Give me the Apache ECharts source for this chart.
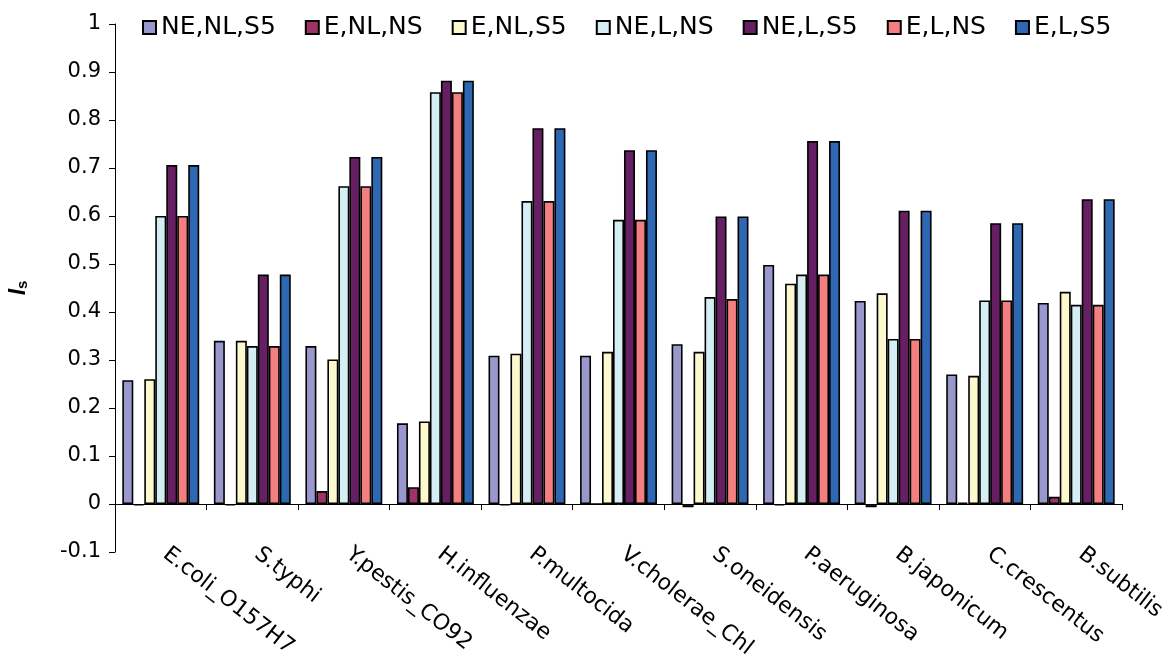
<!DOCTYPE html>
<html>
<head>
<meta charset="utf-8">
<title>Is by genome</title>
<script src="https://cdn.jsdelivr.net/npm/echarts@6/dist/echarts.min.js"></script>
<style>
  html, body { margin: 0; padding: 0; background: #fff; }
  #chart { width: 1169px; height: 654px; }
</style>
</head>
<body>
<div id="chart"></div>
<script>
// Genomes on the category axis
const genomes = ['E.coli_O157H7', 'S.typhi', 'Y.pestis_CO92', 'H.influenzae', 'P.multocida',
  'V.cholerae_Chl', 'S.oneidensis', 'P.aeruginosa', 'B.japonicum', 'C.crescentus', 'B.subtilis'];

// Is values for each model variant, one entry per genome
const neNlS5 = [0.258, 0.340, 0.329, 0.168, 0.309, 0.309, 0.333, 0.498, 0.423, 0.270, 0.419];
const eNlNs  = [-0.003, -0.003, 0.027, 0.035, -0.003, 0.000, -0.007, -0.003, -0.007, 0.003, 0.015];
const eNlS5  = [0.260, 0.340, 0.301, 0.172, 0.313, 0.317, 0.317, 0.459, 0.439, 0.267, 0.442];
const neLNs  = [0.600, 0.329, 0.662, 0.858, 0.631, 0.592, 0.431, 0.478, 0.344, 0.424, 0.415];
const neLS5  = [0.706, 0.478, 0.723, 0.882, 0.783, 0.737, 0.599, 0.756, 0.611, 0.585, 0.635];
const eLNs   = [0.600, 0.329, 0.662, 0.858, 0.631, 0.592, 0.427, 0.478, 0.344, 0.424, 0.415];
const eLS5   = [0.706, 0.478, 0.723, 0.882, 0.783, 0.737, 0.599, 0.756, 0.611, 0.585, 0.635];

const seriesNames = ['NE,NL,S5', 'E,NL,NS', 'E,NL,S5', 'NE,L,NS', 'NE,L,S5', 'E,L,NS', 'E,L,S5'];
const seriesValues = [neNlS5, eNlNs, eNlS5, neLNs, neLS5, eLNs, eLS5];
const seriesColors = ['#9898CC', '#9C3468', '#FCF9CF', '#D5EEF4', '#661F63', '#F37F81', '#2E67B2'];

// Value axis range
const yMin = -0.1, yMax = 1, yStep = 0.1;

const FONT = 'DejaVu Sans';

const chart = echarts.init(document.getElementById('chart'), null, { renderer: 'canvas' });

chart.setOption({
  animation: false,
  backgroundColor: '#ffffff',
  textStyle: { fontFamily: FONT, color: '#000' },
  legend: {
    top: 10,
    left: 137,
    icon: 'rect',
    itemWidth: 13,
    itemHeight: 13,
    itemGap: 29,
    textStyle: { fontFamily: FONT, fontSize: 25, color: '#000' },
    data: seriesNames
  },
  grid: { left: 115, right: 47, top: 24, bottom: 102, outerBoundsMode: 'none', containLabel: false },
  xAxis: {
    type: 'category',
    data: genomes,
    axisLine: { onZero: true, lineStyle: { color: '#000', width: 1 } },
    axisTick: { show: true, inside: false, length: 6, lineStyle: { color: '#000' } },
    axisLabel: {
      rotate: -38, margin: -4, padding: [0, 0, 0, 6],
      fontFamily: FONT, fontSize: 22, color: '#000', interval: 0
    },
    splitLine: { show: false }
  },
  yAxis: {
    type: 'value',
    min: yMin,
    max: yMax,
    interval: yStep,
    name: '{i|I}{s|s}',
    nameLocation: 'middle',
    nameRotate: 90,
    nameGap: 85,
    nameTextStyle: {
      rich: {
        i: { fontFamily: 'Liberation Sans', fontSize: 23, fontWeight: 'bold', fontStyle: 'italic', color: '#000' },
        s: { fontFamily: 'Liberation Sans', fontSize: 15, fontWeight: 'bold', color: '#000', verticalAlign: 'bottom', padding: [8, 0, 0, 0] }
      }
    },
    axisLine: { show: true, lineStyle: { color: '#000', width: 1 } },
    axisTick: { show: true, inside: false, length: 6, lineStyle: { color: '#000' } },
    axisLabel: {
      margin: 14,
      fontFamily: FONT,
      fontSize: 21,
      color: '#000',
      formatter: v => String(Math.round(v * 10) / 10)
    },
    splitLine: { show: false }
  },
  series: seriesNames.map((name, i) => ({
    name,
    type: 'bar',
    data: seriesValues[i],
    barGap: '0%',
    barCategoryGap: '16%',
    itemStyle: { color: seriesColors[i], borderColor: '#000', borderWidth: 1.6 }
  }))
});
</script>
</body>
</html>
